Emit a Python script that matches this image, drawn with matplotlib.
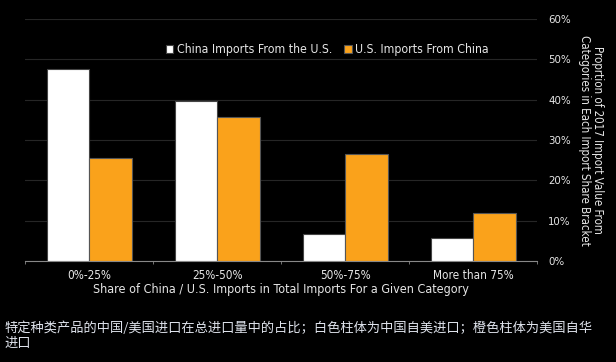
import matplotlib.pyplot as plt
import numpy as np

# Data
categories = ["0%-25%", "25%-50%", "50%-75%", "More than 75%"]
china_from_us = [47.6, 39.7, 6.6, 5.6]
us_from_china = [25.6, 35.7, 26.6, 11.9]
y_ticks = [0, 10, 20, 30, 40, 50, 60]

plt.rcParams['font.family'] = ['DejaVu Sans']
plt.rcParams['font.stretch'] = 'condensed'
txt = "#e6e6e6"
orange = "#faa21b"
fs = 8.8

fig = plt.figure(figsize=(6.16, 3.62), dpi=100, facecolor="black")
ax = fig.add_axes([0.041, 0.279, 0.831, 0.6685], facecolor="black")

x = np.arange(len(categories))
w = 0.333
ax.bar(x - w / 2, china_from_us, w, color="white", edgecolor="#444444",
       linewidth=0.8, label="China Imports From the U.S.", zorder=3)
ax.bar(x + w / 2, us_from_china, w, color=orange, edgecolor="#555555",
       linewidth=0.8, label="U.S. Imports From China", zorder=3)

ax.set_xlim(-0.5, len(categories) - 0.5)
ax.set_ylim(0, 60)
ax.set_yticks(y_ticks)
ax.set_yticklabels([f"{t}%" for t in y_ticks])
ax.yaxis.tick_right()
ax.yaxis.set_label_position("right")
ax.tick_params(axis="y", length=0, pad=8, colors=txt, labelsize=8.2)
ax.grid(axis="y", color="#262626", linewidth=0.8, zorder=0)

ax.set_xticks(x)
ax.set_xticklabels(categories)
ax.set_xticks(np.arange(len(categories) + 1) - 0.5, minor=True)
ax.tick_params(axis="x", which="major", length=0, pad=6, colors=txt, labelsize=8.5)
ax.tick_params(axis="x", which="minor", length=2.5, color="#888888", direction="out")

for s in ["top", "left", "right"]:
    ax.spines[s].set_visible(False)
ax.spines["bottom"].set_color("#888888")

ax.set_xlabel("Share of China / U.S. Imports in Total Imports For a Given Category",
              color=txt, fontsize=9, labelpad=0.5)
ax.set_ylabel("Proprtion of 2017 Import Value From\nCategories in Each Import Share Bracket",
              color=txt, fontsize=8.3, rotation=270, labelpad=24, linespacing=1.0)

leg = ax.legend(loc="center", bbox_to_anchor=(0.59, 0.872), ncol=2, frameon=False,
                fontsize=fs, handlelength=0.6, handleheight=0.6, handletextpad=0.3,
                columnspacing=1.0, labelcolor=txt, borderpad=0)

fig.text(0.008, 0.072, "特定种类产品的中国/美国进口在总进口量中的占比；白色柱体为中国自美进口；橙色柱体为美国自华\n进口",
         color="#dfe3ec", fontsize=9.5, family=['Noto Sans CJK SC', 'DejaVu Sans'],
         fontstretch='normal', va="center", linespacing=1.2)

fig.savefig("out.png", dpi=100, facecolor="black")
